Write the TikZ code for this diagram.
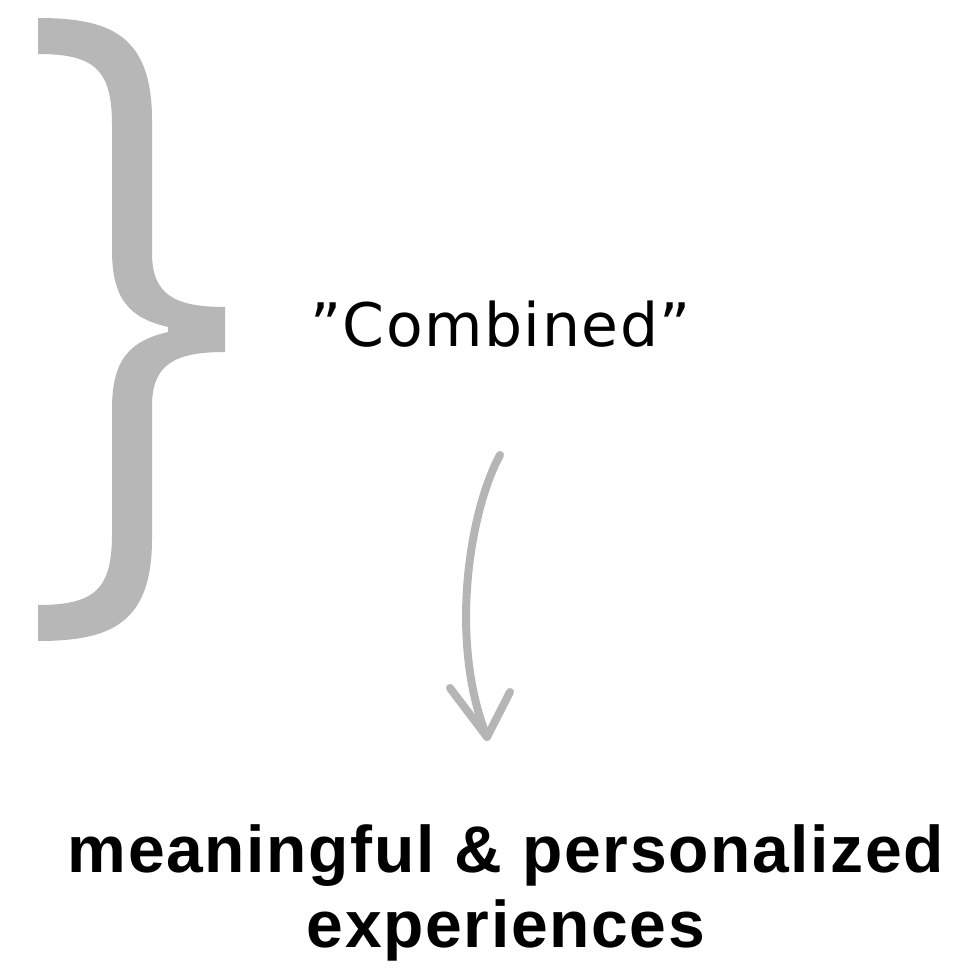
\documentclass[tikz,border=0pt]{standalone}
\usepackage{fontspec}
\setmainfont{Liberation Sans}
\newfontfamily\labelfont[LetterSpace=2.5]{DejaVu Sans}
\newfontfamily\resultfont[LetterSpace=2.5]{Liberation Sans}
\definecolor{bracegray}{HTML}{B7B7B7}
\definecolor{arrowgray}{HTML}{B5B5B5}
\tikzset{
  bracefill/.style={fill=bracegray, draw=none},
  handarrow/.style={draw=arrowgray, line width=8pt, line cap=round, line join=round},
  labeltext/.style={font=\labelfont\fontsize{60}{66}\selectfont, text=black, inner sep=0pt, anchor=base west},
  resulttext/.style={font=\resultfont\bfseries\fontsize{66}{75}\selectfont, text=black, inner sep=0pt, align=center, anchor=base}
}
\begin{document}
\begin{tikzpicture}[x=1pt,y=-1pt]
\useasboundingbox (0,0) rectangle (963,974);
% brace
\path[bracefill] (38,18) .. controls (110,18) and (152,35) .. (152,120)
  -- (152,253) .. controls (152,295) and (175,307) .. (225,307)
  -- (225,352) .. controls (175,352) and (152,364) .. (152,406)
  -- (152,539) .. controls (152,624) and (110,641) .. (38,641)
  -- (38,605) .. controls (95,605) and (112,589) .. (112,534)
  -- (112,409) .. controls (112,359) and (130,341) .. (168,332)
  -- (168,327) .. controls (130,318) and (112,300) .. (112,250)
  -- (112,125) .. controls (112,70) and (95,54) .. (38,54) -- cycle;
% label
\node[labeltext] (comb) at (310,346) {”Combined”};
% arrow
\coordinate (astart) at (500,455);
\coordinate (atip) at (487,737);
\coordinate (abl) at (450,688);
\coordinate (abr) at (510,692);
\draw[handarrow] (astart) .. controls (470,510) and (448,640) .. (atip);
\draw[handarrow] (abl) -- (atip) -- (abr);
% result
\node[resulttext] (res) at (506,947) {meaningful \& personalized\\experiences};
\end{tikzpicture}
\end{document}
